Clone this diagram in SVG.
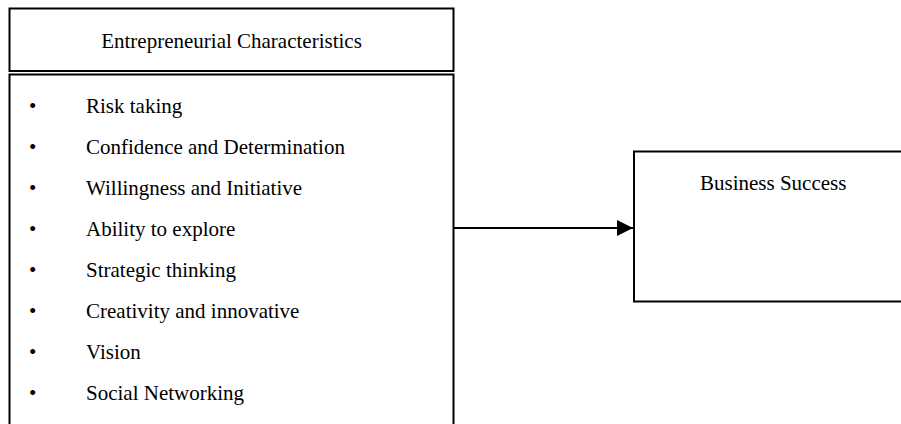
<svg xmlns="http://www.w3.org/2000/svg" width="901" height="424" viewBox="0 0 901 424">
  <style>
    .box { fill: #ffffff; stroke: #000000; stroke-width: 2; }
    .t { font-family: "Liberation Serif", "Times New Roman", serif; fill: #000000; }
    .title { font-size: 21px; }
    .item { font-size: 21px; }
    .conn { stroke: #000000; stroke-width: 2; fill: none; }
  </style>
  <defs>
    <marker id="arrow" markerUnits="userSpaceOnUse" markerWidth="16" markerHeight="16" refX="16" refY="8" orient="auto">
      <path d="M0,0 L16,8 L0,16 Z" fill="#000000"/>
    </marker>
  </defs>
  <rect width="901" height="424" fill="#ffffff"/>
  <g id="node-title">
    <rect class="box" x="9.5" y="8.5" width="444" height="62.5" stroke="#333"/>
    <text class="t title" x="231.5" y="48" text-anchor="middle">Entrepreneurial Characteristics</text>
  </g>
  <g id="node-characteristics">
    <rect class="box" x="9.5" y="74.5" width="444" height="360"/>
    <g class="t item">
      <text x="29" y="113">•</text><text x="86" y="113">Risk taking</text>
      <text x="29" y="154">•</text><text x="86" y="154">Confidence and Determination</text>
      <text x="29" y="195">•</text><text x="86" y="195">Willingness and Initiative</text>
      <text x="29" y="236">•</text><text x="86" y="236">Ability to explore</text>
      <text x="29" y="277">•</text><text x="86" y="277">Strategic thinking</text>
      <text x="29" y="318">•</text><text x="86" y="318">Creativity and innovative</text>
      <text x="29" y="359">•</text><text x="86" y="359">Vision</text>
      <text x="29" y="400">•</text><text x="86" y="400">Social Networking</text>
    </g>
  </g>
  <g id="node-success">
    <rect class="box" x="634" y="151.5" width="280" height="150"/>
    <text class="t item" x="700" y="190">Business Success</text>
  </g>
  <g id="connectors">
    <line class="conn" x1="454" y1="228" x2="633" y2="228" marker-end="url(#arrow)"/>
  </g>
</svg>
